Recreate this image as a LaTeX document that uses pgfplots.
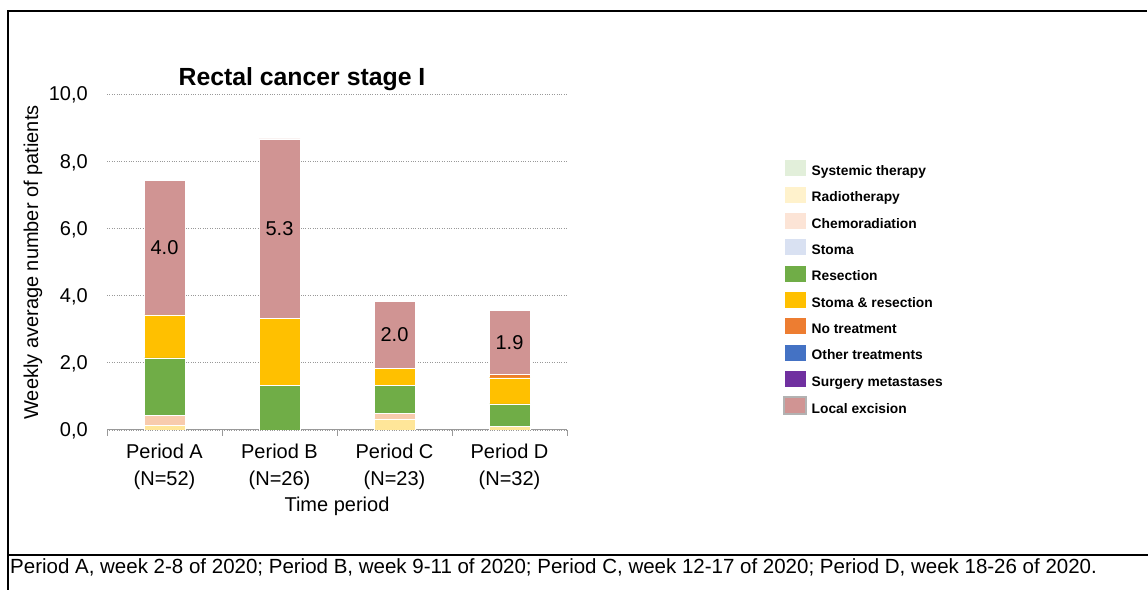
\documentclass[border=0pt]{standalone}
\usepackage{fontspec}
\setmainfont{Liberation Sans}
\usepackage{pgfplots}
\pgfplotsset{compat=1.18}
\definecolor{cSys}{HTML}{E2EFDA}
\definecolor{cRad}{HTML}{FFE699}
\definecolor{cRadL}{HTML}{FFF2CC}
\definecolor{cChe}{HTML}{F8CBAD}
\definecolor{cCheL}{HTML}{FCE4D6}
\definecolor{cSto}{HTML}{D9E1F2}
\definecolor{cRes}{HTML}{70AD47}
\definecolor{cSR}{HTML}{FFC000}
\definecolor{cNo}{HTML}{ED7D31}
\definecolor{cOth}{HTML}{4472C4}
\definecolor{cMet}{HTML}{7030A0}
\definecolor{cLoc}{HTML}{D09493}
\begin{document}
\begin{tikzpicture}[x=1bp,y=1bp]
\path[use as bounding box] (0,0) rectangle (1148,590);
\draw[line width=2.5bp] (8,0) -- (8,579) -- (1147,579);
\draw[line width=2bp] (8,35) -- (1148,35);
\node[anchor=base west, inner sep=0, font=\fontsize{20.5bp}{24bp}\selectfont] at (10,16)
  {Period A, week 2-8 of 2020; Period B, week 9-11 of 2020; Period C, week 12-17 of 2020; Period D, week 18-26 of 2020.};
\node[anchor=base, inner sep=0, font=\fontsize{24.8bp}{28bp}\selectfont\bfseries] at (302,504) {Rectal cancer stage I};
\node[anchor=base, inner sep=0, font=\fontsize{20bp}{24bp}\selectfont] at (337,78) {Time period};
\node[rotate=90, inner sep=0, font=\fontsize{20bp}{24bp}\selectfont] at (33,327.5) {Weekly average number of patients};
\begin{axis}[
  at={(107bp,160bp)}, anchor=south west,
  scale only axis, width=460bp, height=336bp,
  ybar stacked, bar width=41bp,
  xmin=0.5, xmax=4.5, ymin=0, ymax=10,
  xtick={1,2,3,4},
  xticklabels={{Period A\\(N=52)},{Period B\\(N=26)},{Period C\\(N=23)},{Period D\\(N=32)}},
  minor xtick={0.5,1.5,2.5,3.5,4.5},
  ytick={0,2,4,6,8,10},
  major tick length=0pt,
  minor tick length=6bp,
  tick align=outside,
  minor x tick style={gray!80, line width=1bp},
  axis x line*=bottom, axis y line*=left,
  y axis line style={draw=none},
  x axis line style={gray!80, line width=1bp},
  ymajorgrids,
  major grid style={dotted, gray!80, line width=0.7bp},
  ticklabel style={font=\fontsize{20bp}{27bp}\selectfont},
  xticklabel style={align=center, anchor=north, inner sep=0pt, yshift=-13.5bp},
  yticklabel style={anchor=east, inner sep=0pt, text depth=0pt, xshift=-19bp,
    /pgf/number format/.cd, fixed, fixed zerofill, precision=1, use comma, assume math mode=true},
  legend style={at={(1.4695,0.8066)}, anchor=north west, draw=none, fill=none, inner sep=0pt,
    row sep=7bp, column sep=5bp, font=\fontsize{13.8bp}{16bp}\selectfont\bfseries,
    nodes={inner sep=0pt, text height=9.5bp, text depth=3bp}},
  legend cell align=left,
  legend image code/.code={\fill[#1] (0bp,-4.1bp) rectangle (22bp,12.9bp);},
]
\addplot[fill=cSys, draw=white, line width=0.4bp] coordinates {(1,0) (2,0) (3,0) (4,0)};
\addlegendentry{Systemic therapy}
\addplot[fill=cRad, draw=white, line width=0.4bp, legend image post style={fill=cRadL}] coordinates {(1,0.143) (2,0) (3,0.333) (4,0.111)};
\addlegendentry{Radiotherapy}
\addplot[fill=cChe, draw=white, line width=0.4bp, legend image post style={fill=cCheL}] coordinates {(1,0.286) (2,0) (3,0.167) (4,0)};
\addlegendentry{Chemoradiation}
\addplot[fill=cSto, draw=white, line width=0.4bp] coordinates {(1,0) (2,0) (3,0) (4,0)};
\addlegendentry{Stoma}
\addplot[fill=cRes, draw=white, line width=0.4bp] coordinates {(1,1.714) (2,1.333) (3,0.833) (4,0.667)};
\addlegendentry{Resection}
\addplot[fill=cSR, draw=white, line width=0.4bp] coordinates {(1,1.286) (2,2.0) (3,0.5) (4,0.778)};
\addlegendentry{Stoma \& resection}
\addplot[fill=cNo, draw=white, line width=0.4bp] coordinates {(1,0) (2,0) (3,0) (4,0.111)};
\addlegendentry{No treatment}
\addplot[fill=cOth, draw=white, line width=0.4bp] coordinates {(1,0) (2,0) (3,0) (4,0)};
\addlegendentry{Other treatments}
\addplot[fill=cMet, draw=white, line width=0.4bp] coordinates {(1,0) (2,0) (3,0) (4,0)};
\addlegendentry{Surgery metastases}
\addplot[fill=cLoc, draw=white, line width=0.4bp, legend image post style={draw=gray!60, line width=1.5bp}] coordinates {(1,4.0) (2,5.333) (3,2.0) (4,1.889)};
\addlegendentry{Local excision}
\end{axis}
\begin{axis}[
  at={(107bp,160bp)}, anchor=south west,
  scale only axis, width=460bp, height=336bp,
  xmin=0.5, xmax=4.5, ymin=0, ymax=10,
  hide axis,
]
\addplot[draw=none, mark=none, nodes near coords, point meta=explicit symbolic,
  every node near coord/.append style={anchor=center, inner sep=0pt, font=\fontsize{20bp}{24bp}\selectfont}]
  table[meta=lab] {
x y lab
1 5.429 4.0
2 6.000 5.3
3 2.833 2.0
4 2.611 1.9
};
\end{axis}
\end{tikzpicture}
\end{document}
